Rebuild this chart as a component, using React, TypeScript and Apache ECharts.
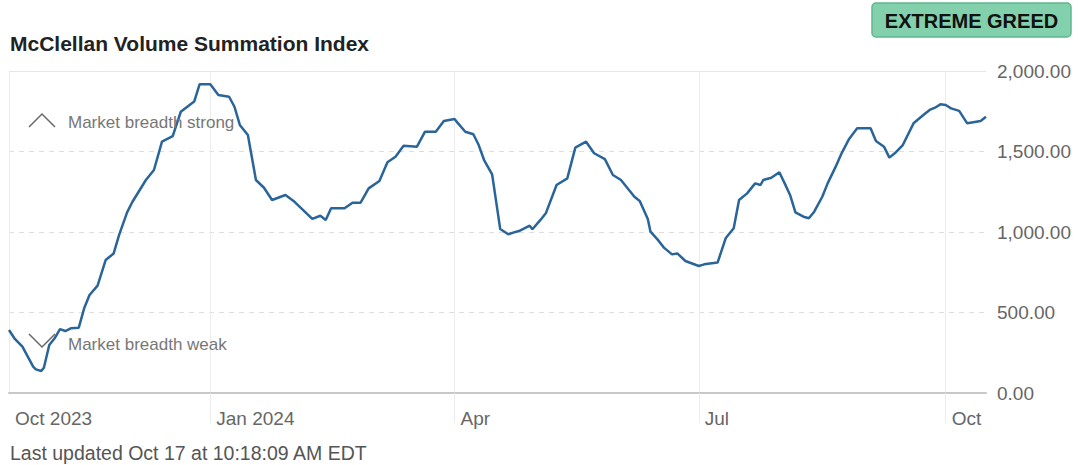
import React, { useEffect, useRef } from "react";
import * as echarts from "echarts";

const startDate = "2023-10-18";
const endDate = "2024-10-16";

const tickDates = ["2023-10-18", "2024-01-01", "2024-04-01", "2024-07-01", "2024-10-01"];
const tickLabels = ["Oct 2023", "Jan 2024", "Apr", "Jul", "Oct"];

const yTicks = [0, 500, 1000, 1500, 2000];

const dates = [
  "2023-10-18", "2023-10-20", "2023-10-23", "2023-10-25", "2023-10-27", "2023-10-28", "2023-10-30", "2023-10-31",
  "2023-11-02", "2023-11-04", "2023-11-06", "2023-11-08", "2023-11-10", "2023-11-13", "2023-11-15", "2023-11-17",
  "2023-11-20", "2023-11-23", "2023-11-26", "2023-11-28", "2023-12-01", "2023-12-03", "2023-12-08", "2023-12-11",
  "2023-12-14", "2023-12-18", "2023-12-21", "2023-12-26", "2023-12-28", "2024-01-01", "2024-01-04", "2024-01-08",
  "2024-01-10", "2024-01-12", "2024-01-15", "2024-01-18", "2024-01-21", "2024-01-24", "2024-01-29", "2024-02-01",
  "2024-02-08", "2024-02-11", "2024-02-13", "2024-02-15", "2024-02-20", "2024-02-23", "2024-02-26", "2024-02-29",
  "2024-03-04", "2024-03-07", "2024-03-10", "2024-03-13", "2024-03-18", "2024-03-21", "2024-03-25", "2024-03-28",
  "2024-04-01", "2024-04-02", "2024-04-05", "2024-04-08", "2024-04-10", "2024-04-12", "2024-04-15", "2024-04-18",
  "2024-04-21", "2024-04-24", "2024-04-25", "2024-04-29", "2024-04-30", "2024-05-03", "2024-05-05", "2024-05-09",
  "2024-05-13", "2024-05-16", "2024-05-20", "2024-05-23", "2024-05-27", "2024-05-30", "2024-06-02", "2024-06-07",
  "2024-06-09", "2024-06-12", "2024-06-13", "2024-06-16", "2024-06-18", "2024-06-21", "2024-06-23", "2024-06-26",
  "2024-07-01", "2024-07-03", "2024-07-08", "2024-07-11", "2024-07-14", "2024-07-16", "2024-07-19", "2024-07-22",
  "2024-07-24", "2024-07-25", "2024-07-28", "2024-07-31", "2024-08-02", "2024-08-04", "2024-08-06", "2024-08-09",
  "2024-08-11", "2024-08-13", "2024-08-16", "2024-08-18", "2024-08-21", "2024-08-23", "2024-08-26", "2024-08-29",
  "2024-09-03", "2024-09-05", "2024-09-08", "2024-09-10", "2024-09-12", "2024-09-15", "2024-09-19", "2024-09-23",
  "2024-09-25", "2024-09-27", "2024-09-29", "2024-10-01", "2024-10-03", "2024-10-06", "2024-10-09", "2024-10-14",
  "2024-10-16",
];

const values = [
  391, 340, 288, 226, 164, 147, 137, 157,
  298, 340, 397, 385, 402, 406, 526, 609,
  667, 826, 867, 981, 1122, 1188, 1323, 1385,
  1561, 1596, 1747, 1810, 1917, 1917, 1851, 1840,
  1778, 1665, 1602, 1323, 1275, 1199, 1230, 1193,
  1081, 1101, 1075, 1147, 1147, 1182, 1182, 1271,
  1317, 1433, 1468, 1536, 1530, 1623, 1623, 1689,
  1702, 1681, 1623, 1607, 1540, 1447, 1358, 1019,
  986, 1002, 1006, 1039, 1017, 1075, 1116, 1292,
  1333, 1524, 1561, 1489, 1453, 1354, 1323, 1219,
  1193, 1081, 1002, 946, 903, 861, 867, 820,
  789, 799, 810, 961, 1023, 1199, 1240, 1302,
  1292, 1323, 1337, 1371, 1302, 1230, 1122, 1095,
  1085, 1126, 1219, 1302, 1406, 1482, 1578, 1644,
  1644, 1565, 1530, 1462, 1489, 1540, 1675, 1731,
  1758, 1772, 1793, 1789, 1768, 1752, 1675, 1689,
  1716,
];

const titleText = "McClellan Volume Summation Index";
const badgeText = "EXTREME GREED";
const strongText = "Market breadth strong";
const weakText = "Market breadth weak";
const footerText = "Last updated Oct 17 at 10:18:09 AM EDT";

function buildDays(from: string, to: string): string[] {
  const out: string[] = [];
  const end = Date.parse(to + "T00:00:00Z");
  for (let t = Date.parse(from + "T00:00:00Z"); t <= end; t += 86400000) {
    out.push(new Date(t).toISOString().slice(0, 10));
  }
  return out;
}

const FONT = "'Liberation Sans', Arial, Helvetica, sans-serif";

export default function App() {
  const ref = useRef<HTMLDivElement>(null);

  useEffect(() => {
    document.body.style.margin = "0";
    if (!ref.current) return;
    const chart = echarts.init(ref.current, undefined, { renderer: "svg" });
    const days = buildDays(startDate, endDate);
    const isTick = (_i: number, v: string) => tickDates.indexOf(v) >= 0;
    const isInnerTick = (_i: number, v: string) => tickDates.indexOf(v) > 0;

    chart.setOption({
      animation: false,
      backgroundColor: "#ffffff",
      grid: { left: 9, right: 93, top: 71, bottom: 72, containLabel: false, outerBoundsMode: "none" },
      xAxis: {
        type: "category",
        data: days,
        boundaryGap: false,
        axisLine: { show: true, lineStyle: { color: "#c8c8c8", width: 2 } },
        axisTick: {
          show: true,
          interval: isInnerTick,
          length: 30,
          lineStyle: { color: "#ececec", width: 1 },
        },
        splitLine: {
          show: true,
          interval: isTick,
          lineStyle: { color: "#ececec", width: 1, type: "solid" },
        },
        axisLabel: {
          show: true,
          interval: isTick,
          formatter: (v: string) => {
            const k = tickDates.indexOf(v);
            return k >= 0 ? tickLabels[k] : "";
          },
          align: "left",
          padding: [0, 0, 0, 6],
          margin: 16,
          color: "#666666",
          fontSize: 19,
          fontFamily: FONT,
          hideOverlap: false,
        },
      },
      yAxis: {
        type: "value",
        position: "right",
        min: 0,
        max: 2000,
        interval: 500,
        axisLine: { show: false },
        axisTick: { show: false },
        splitLine: { show: true, lineStyle: { color: "#dedede", width: 1, type: [5, 5] } },
        axisLabel: {
          margin: 11,
          color: "#666666",
          fontSize: 19,
          fontFamily: FONT,
          formatter: (v: number) =>
            yTicks.indexOf(v) >= 0
              ? v.toLocaleString("en-US", { minimumFractionDigits: 2, maximumFractionDigits: 2 })
              : "",
        },
      },
      series: [
        {
          type: "line",
          data: dates.map((d, i) => [d, values[i]]),
          symbol: "none",
          lineStyle: { color: "#2a6599", width: 2.5 },
          z: 5,
          markLine: {
            silent: true,
            symbol: "none",
            label: { show: false },
            lineStyle: { color: "#e6e6e6", width: 1, type: "solid" },
            data: [{ yAxis: 2000 }],
            z: 1,
          },
        },
      ],
      graphic: [
        {
          type: "text",
          x: 10,
          y: 43,
          style: {
            text: titleText,
            fontSize: 21,
            fontWeight: "bold",
            fontFamily: FONT,
            fill: "#222222",
            verticalAlign: "middle",
          },
        },
        {
          type: "rect",
          shape: { x: 872, y: 3, width: 199, height: 34, r: 4 },
          style: { fill: "#83d0ac", stroke: "#5fb68d", lineWidth: 1.5 },
        },
        {
          type: "text",
          x: 971.5,
          y: 20.5,
          style: {
            text: badgeText,
            fontSize: 20,
            fontWeight: "bold",
            fontFamily: FONT,
            fill: "#111111",
            align: "center",
            verticalAlign: "middle",
          },
        },
        {
          type: "polyline",
          shape: { points: [[29, 127], [42, 114], [55, 127]] },
          style: { stroke: "#6a6a6a", lineWidth: 1.5, fill: "none" },
          z: 10,
        },
        {
          type: "text",
          x: 68,
          y: 122,
          style: {
            text: strongText,
            fontSize: 17,
            fontFamily: FONT,
            fill: "#777777",
            verticalAlign: "middle",
          },
          z: 10,
        },
        {
          type: "polyline",
          shape: { points: [[29, 334], [42, 347], [55, 334]] },
          style: { stroke: "#6a6a6a", lineWidth: 1.5, fill: "none" },
          z: 10,
        },
        {
          type: "text",
          x: 68,
          y: 344,
          style: {
            text: weakText,
            fontSize: 17,
            fontFamily: FONT,
            fill: "#777777",
            verticalAlign: "middle",
          },
          z: 10,
        },
        {
          type: "text",
          x: 10,
          y: 453,
          style: {
            text: footerText,
            fontSize: 19.5,
            fontFamily: FONT,
            fill: "#555555",
            verticalAlign: "middle",
          },
        },
      ],
    });

    return () => chart.dispose();
  }, []);

  return <div ref={ref} style={{ width: 1079, height: 465 }} />;
}
